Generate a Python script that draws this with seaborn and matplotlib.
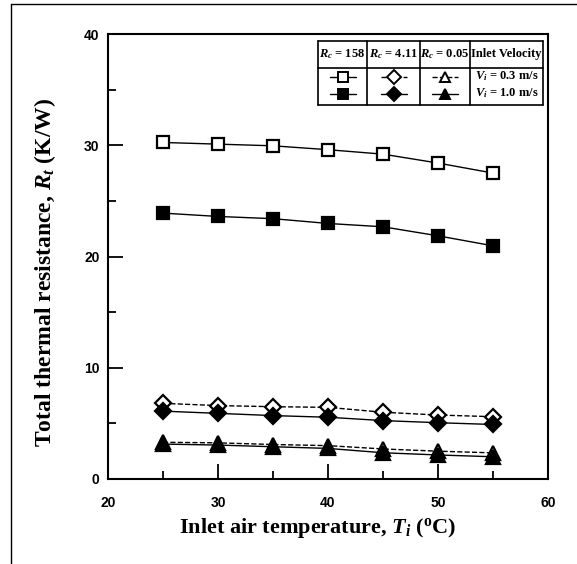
import matplotlib
matplotlib.use("Agg")
import matplotlib.pyplot as plt
from matplotlib.lines import Line2D
from matplotlib.ticker import MultipleLocator
import seaborn as sns
import pandas as pd

# ---- data ----
temps = [25, 30, 35, 40, 45, 50, 55]
rc158_v03 = [30.25, 30.1, 29.95, 29.6, 29.2, 28.4, 27.5]
rc158_v10 = [23.9, 23.6, 23.4, 22.97, 22.67, 21.86, 20.96]
rc411_v03 = [6.8, 6.6, 6.5, 6.44, 6.0, 5.75, 5.6]
rc411_v10 = [6.1, 5.9, 5.7, 5.55, 5.25, 5.06, 4.9]
rc005_v03 = [3.3, 3.25, 3.1, 3.0, 2.7, 2.5, 2.35]
rc005_v10 = [3.14, 3.05, 2.9, 2.75, 2.36, 2.16, 2.0]

col_headers = [r"$R_c$ = 158", r"$R_c$ = 4.11", r"$R_c$ = 0.05", "Inlet Velocity"]
row_labels = [r"$V_i$ = 0.3 m/s", r"$V_i$ = 1.0 m/s"]
xticks = [20, 30, 40, 50, 60]
yticks = [0, 10, 20, 30, 40]

sns.set_theme(style="white")
plt.rcParams["mathtext.fontset"] = "custom"
plt.rcParams["mathtext.rm"] = "Liberation Serif:bold"
plt.rcParams["mathtext.it"] = "Liberation Serif:bold:italic"
plt.rcParams["mathtext.bf"] = "Liberation Serif:bold"

W, H = 577, 564
fig = plt.figure(figsize=(W / 100, H / 100), dpi=100)
fig.patch.set_facecolor("white")
ax = fig.add_axes([108 / W, 1 - 479 / H, 440 / W, 445 / H])
ax.set_facecolor("white")

series = [
    (rc158_v03, "s", "white", "-"),
    (rc158_v10, "s", "black", "-"),
    (rc411_v03, "D", "white", "--"),
    (rc411_v10, "D", "black", "-"),
    (rc005_v03, "^", "white", "--"),
    (rc005_v10, "^", "black", "-"),
]
for vals, mk, fc, ls in series:
    df = pd.DataFrame({"T": temps, "R": vals})
    ms = 9 if mk == "s" else (8 if mk == "D" else 10)
    sns.lineplot(data=df, x="T", y="R", ax=ax, color="black", linewidth=1.0,
                 linestyle=ls, marker=mk, markersize=ms, markerfacecolor=fc,
                 markeredgecolor="black", markeredgewidth=1.6)

ax.set_xlim(20, 60)
ax.set_ylim(0, 40)
ax.set_xticks(xticks)
ax.set_yticks(yticks)
ax.xaxis.set_minor_locator(MultipleLocator(5))
ax.yaxis.set_minor_locator(MultipleLocator(5))
ax.tick_params(which="major", direction="in", length=11, width=1.3, color="black")
ax.tick_params(which="minor", direction="in", length=5.5, width=1.3, color="black")
ax.tick_params(axis="x", which="both", pad=12, bottom=True, top=False)
ax.tick_params(axis="y", which="both", pad=6, left=True, right=False)
for lab in ax.get_xticklabels() + ax.get_yticklabels():
    lab.set_fontfamily("Liberation Sans")
    lab.set_fontweight("bold")
    lab.set_fontsize(10)
    lab.set_color("black")
for s in ax.spines.values():
    s.set_color("black")
    s.set_linewidth(1.5)

ax.set_xlabel(r"Inlet air temperature, $T_i$ ($^{\rm o}$C)", fontfamily="Liberation Serif",
              fontweight="bold", fontsize=16, color="black")
ax.set_ylabel(r"Total thermal resistance, $R_t$ (K/W)", fontfamily="Liberation Serif",
              fontweight="bold", fontsize=17, color="black")
ax.xaxis.set_label_coords((317 - 108) / 440, (479 - 516) / 445)
ax.yaxis.set_label_coords((58 - 108) / 440, (479 - 272) / 445)

# ---- legend table (axes fraction coords) ----
def fx(px):
    return (px - 108) / 440
def fy(py):
    return (479 - py) / 445

tb = ax.transAxes
xl, xs1, xs2, xs3, xr = 318, 367, 420, 470, 543
yt, ym, yb = 41, 68, 105
lw = 1.2
for (x0, y0, x1, y1) in [(xl, yt, xr, yt), (xl, ym, xr, ym), (xl, yb, xr, yb),
                         (xl, yt, xl, yb), (xr, yt, xr, yb),
                         (xs1, yt, xs1, yb), (xs2, yt, xs2, yb), (xs3, yt, xs3, yb)]:
    ax.add_line(Line2D([fx(x0), fx(x1)], [fy(y0), fy(y1)], transform=tb,
                       color="black", lw=lw, clip_on=False))
centers = [(xl + xs1) / 2, (xs1 + xs2) / 2, (xs2 + xs3) / 2, (xs3 + xr) / 2]
for c, t in zip(centers, col_headers):
    ax.text(fx(c), fy((yt + ym) / 2), t, transform=tb, ha="center", va="center",
            fontfamily="Liberation Serif", fontweight="bold", fontsize=9, color="black")
rows_y = [76.5, 93.5]
for ry, lab in zip(rows_y, row_labels):
    ax.text(fx(centers[3]), fy(ry), lab, transform=tb, ha="center", va="center",
            fontfamily="Liberation Serif", fontweight="bold", fontsize=9, color="black")
leg_marks = [("s", "-", "-"), ("D", "--", "-"), ("^", "--", "-")]
for ci, (mk, ls_top, ls_bot) in enumerate(leg_marks):
    c = centers[ci]
    for ri, (ry, fc, ls) in enumerate([(rows_y[0], "white", ls_top), (rows_y[1], "black", ls_bot)]):
        ax.add_line(Line2D([fx(c - 13), fx(c + 13)], [fy(ry), fy(ry)], transform=tb,
                           color="black", lw=1.0, linestyle=ls, clip_on=False))
        ax.add_line(Line2D([fx(c)], [fy(ry)], transform=tb, marker=mk, markersize=7,
                           markerfacecolor=fc, markeredgecolor="black", markeredgewidth=1.4,
                           linestyle="none", clip_on=False))

# figure frame lines
fig.add_artist(Line2D([11 / W, 11 / W], [0, 1 - 4 / H], transform=fig.transFigure,
                      color="black", lw=1.0))
fig.add_artist(Line2D([11 / W, 1], [1 - 4 / H, 1 - 4 / H], transform=fig.transFigure,
                      color="black", lw=1.0))

fig.savefig("out.png", dpi=100, facecolor="white")
